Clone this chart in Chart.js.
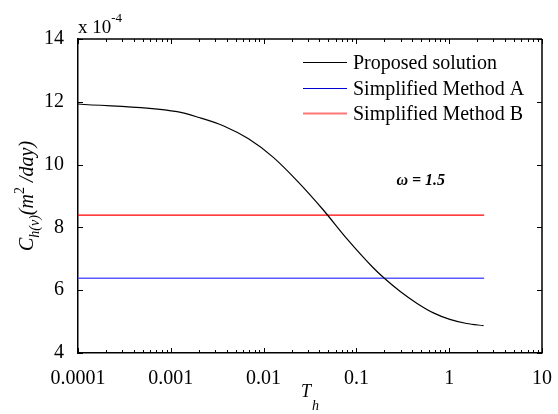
<!DOCTYPE html>
<html>
<head>
<meta charset="utf-8">
<script src="https://cdn.jsdelivr.net/npm/chart.js@4.4.1/dist/chart.umd.min.js"></script>
<style>
  html, body { margin: 0; padding: 0; background: #fff; }
</style>
</head>
<body>
<canvas id="ConsolidationChart" width="558" height="414"></canvas>
<script>
// values (y in units of 1e-4 m^2/day)
var seriesNames = ['Proposed solution', 'Simplified Method A', 'Simplified Method B'];
var proposedTh = [0.0001, 0.00117, 0.00201, 0.00372, 0.00688, 0.01273, 0.02353, 0.04355, 0.0805, 0.149, 0.2, 0.297, 0.451, 0.685, 1.015, 1.542, 2.343];
var proposedC  = [11.93, 11.685, 11.50, 11.23, 10.82, 10.23, 9.45, 8.57, 7.61, 6.74, 6.38, 5.96, 5.58, 5.27, 5.07, 4.94, 4.87];
var methodTh = [0.0001, 2.38];
var methodA = [6.38, 6.38];
var methodB = [8.39, 8.39];
var xTicks = [0.0001, 0.001, 0.01, 0.1, 1, 10];
var yTicks = [4, 6, 8, 10, 12, 14];
var omegaNote = { text: '\u03c9 = 1.5', x: 0.27, y: 9.35 };

var serif = "'Liberation Serif', 'DejaVu Serif', serif";

function toPoints(xs, ys) {
	return xs.map(function(x, i) {
		return { x: x, y: ys[i] };
	});
}

// MATLAB style inward ticks, box frame, in-plot legend and labels
var matlabLook = {
	id: 'matlabLook',
	afterDraw: function(chart) {
		var ctx = chart.ctx;
		var a = chart.chartArea;
		var xs = chart.scales.x, ys = chart.scales.y;
		ctx.save();
		ctx.strokeStyle = '#000';
		ctx.lineWidth = 1.5;
		ctx.beginPath();
		ctx.moveTo(a.left, a.top); ctx.lineTo(a.right, a.top);
		ctx.moveTo(a.right, a.top); ctx.lineTo(a.right, a.bottom);
		ctx.stroke();

		ctx.lineWidth = 1;
		ctx.beginPath();
		xTicks.forEach(function(d, i) {
			var px = Math.round(xs.getPixelForValue(d)) + 0.5;
			ctx.moveTo(px, a.bottom); ctx.lineTo(px, a.bottom - 5);
			ctx.moveTo(px, a.top); ctx.lineTo(px, a.top + 5);
			if (i < xTicks.length - 1) {
				for (var m = 2; m <= 9; m++) {
					var mx = Math.round(xs.getPixelForValue(d * m)) + 0.5;
					ctx.moveTo(mx, a.bottom); ctx.lineTo(mx, a.bottom - 3);
					ctx.moveTo(mx, a.top); ctx.lineTo(mx, a.top + 3);
				}
			}
		});
		yTicks.forEach(function(v) {
			var py = Math.round(ys.getPixelForValue(v)) + 0.5;
			ctx.moveTo(a.left, py); ctx.lineTo(a.left + 5, py);
			ctx.moveTo(a.right, py); ctx.lineTo(a.right - 5, py);
		});
		ctx.stroke();

		// legend
		var legendColors = ['#000000', '#0000d0', '#ff7878'];
		var legendWidths = [1, 1, 2];
		ctx.font = '20px ' + serif;
		ctx.fillStyle = '#000';
		ctx.textBaseline = 'middle';
		ctx.textAlign = 'left';
		chart.data.datasets.forEach(function(ds, i) {
			var ly = Math.round(a.top + 23 + i * 25.5) + 0.5;
			ctx.strokeStyle = legendColors[i];
			ctx.lineWidth = legendWidths[i];
			ctx.beginPath();
			ctx.moveTo(a.left + 225, ly); ctx.lineTo(a.left + 269, ly);
			ctx.stroke();
			ctx.fillText(ds.label, a.left + 275, ly + 1);
		});

		// omega annotation
		ctx.font = 'italic bold 16px ' + serif;
		ctx.textBaseline = 'alphabetic';
		ctx.fillText(omegaNote.text, xs.getPixelForValue(omegaNote.x), ys.getPixelForValue(omegaNote.y));

		// exponent label
		ctx.font = '19px ' + serif;
		ctx.fillText('x 10', a.left, a.top - 6);
		var w = ctx.measureText('x 10').width;
		ctx.font = '13px ' + serif;
		ctx.fillText('-4', a.left + w, a.top - 17);

		// x title T_h
		var cx = (a.left + a.right) / 2;
		ctx.font = 'italic 18px ' + serif;
		ctx.fillText('T', cx - 9, a.bottom + 44);
		var tw = ctx.measureText('T').width;
		ctx.font = 'italic 14px ' + serif;
		ctx.fillText('h', cx - 9 + tw + 1, a.bottom + 57);

		// y title C_h(v)(m^2/day)
		var parts = [
			{ t: 'C', f: 'italic 20px ', dy: 0 },
			{ t: 'h(v)', f: 'italic 14px ', dy: 6 },
			{ t: '(m', f: 'italic 20px ', dy: 0 },
			{ t: '2', f: '14px ', dy: -9 },
			{ t: ' /day)', f: 'italic 20px ', dy: 0 }
		];
		var total = 0;
		parts.forEach(function(p) {
			ctx.font = p.f + serif;
			p.w = ctx.measureText(p.t).width;
			total += p.w;
		});
		ctx.translate(33, (a.top + a.bottom) / 2);
		ctx.rotate(-Math.PI / 2);
		var pos = -total / 2;
		parts.forEach(function(p) {
			ctx.font = p.f + serif;
			ctx.fillText(p.t, pos, p.dy);
			pos += p.w;
		});
		ctx.restore();
	}
};

var ctx = ConsolidationChart.getContext('2d');
var config = {
	type: 'line',
	data: {
		datasets: [{
			label: seriesNames[0],
			data: toPoints(proposedTh, proposedC),
			borderColor: '#000000',
			borderWidth: 1.2,
			cubicInterpolationMode: 'monotone'
		}, {
			label: seriesNames[1],
			data: toPoints(methodTh, methodA),
			borderColor: '#5a5aff',
			borderWidth: 1.4
		}, {
			label: seriesNames[2],
			data: toPoints(methodTh, methodB),
			borderColor: '#ff0000',
			borderWidth: 1.1
		}]
	},
	options: {
		responsive: false,
		animation: false,
		elements: { point: { radius: 0 } },
		layout: { padding: { top: 39, right: 12, left: 0, bottom: 0 } },
		plugins: { legend: { display: false }, tooltip: { enabled: false } },
		scales: {
			x: {
				type: 'logarithmic',
				min: 0.0001,
				max: 10,
				grid: { display: false },
				border: { display: true, color: '#000', width: 1.5 },
				afterBuildTicks: function(scale) {
					scale.ticks = xTicks.map(function(v) { return { value: v }; });
				},
				afterFit: function(scale) { scale.height = 61; },
				ticks: {
					autoSkip: false,
					maxRotation: 0,
					padding: 6,
					color: '#000',
					font: { family: serif, size: 20 },
					callback: function(value) { return String(value); }
				}
			},
			y: {
				min: 4,
				max: 14,
				grid: { display: false },
				border: { display: true, color: '#000', width: 1.5 },
				afterBuildTicks: function(scale) {
					scale.ticks = yTicks.map(function(v) { return { value: v }; });
				},
				afterFit: function(scale) { scale.width = 78; },
				ticks: {
					padding: 6,
					color: '#000',
					font: { family: serif, size: 20 }
				}
			}
		}
	},
	plugins: [matlabLook]
};

var chart = new Chart(ctx, config);
</script>
</body>
</html>
